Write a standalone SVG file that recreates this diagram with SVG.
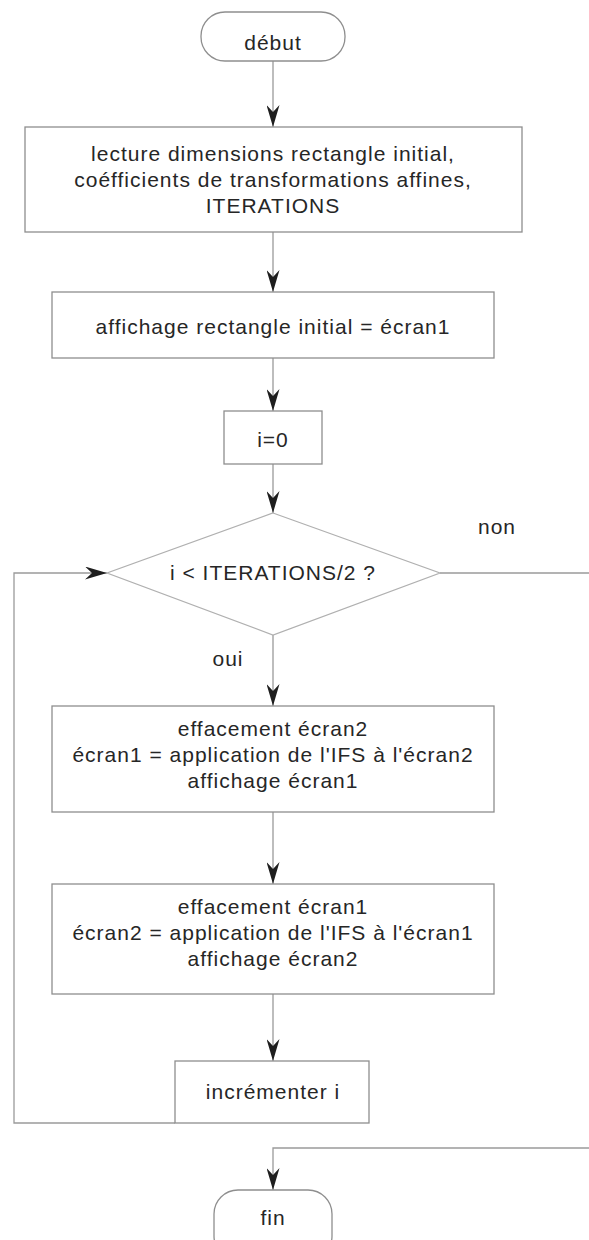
<svg xmlns="http://www.w3.org/2000/svg" width="589" height="1240" viewBox="0 0 589 1240">
  <defs>
    <marker id="arrow" viewBox="0 0 22 13" refX="22" refY="6.5" markerWidth="22" markerHeight="13" markerUnits="userSpaceOnUse" orient="auto">
      <path d="M0,0 L22,6.5 L0,13 L7,6.5 Z" fill="#1e1e1e"/>
    </marker>
  </defs>
  <style>
    .box { fill: #ffffff; stroke: #8e8e8e; stroke-width: 1.3; }
    .dia { fill: #ffffff; stroke: #b0b0b0; stroke-width: 1.2; }
    .lbl { font-family: "Liberation Sans", Arial, sans-serif; font-size: 21px; letter-spacing: 1px; fill: #262626; text-anchor: middle; }
    .wire { fill: none; stroke: #9a9a9a; stroke-width: 1.3; }
    .flow { fill: none; stroke: #9a9a9a; stroke-width: 1.3; marker-end: url(#arrow); }
  </style>
  <rect width="589" height="1240" fill="#ffffff"/>

  <!-- connectors -->
  <g id="connectors">
    <line class="flow" x1="273" y1="61" x2="273" y2="127"/>
    <line class="flow" x1="273" y1="232" x2="273" y2="292"/>
    <line class="flow" x1="273" y1="358" x2="273" y2="411"/>
    <line class="flow" x1="273" y1="464" x2="273" y2="513"/>
    <line class="flow" x1="273" y1="635" x2="273" y2="706"/>
    <line class="flow" x1="273" y1="812" x2="273" y2="884"/>
    <line class="flow" x1="273" y1="994" x2="273" y2="1061"/>
    <!-- loop back to the test -->
    <polyline class="flow" points="175,1123 14,1123 14,573 107,573"/>
    <!-- exit branch leaves to the right and comes back to the end -->
    <line class="wire" x1="440" y1="573" x2="589" y2="573"/>
    <polyline class="flow" points="589,1148 273,1148 273,1190"/>
    <text class="lbl" x="497" y="534">non</text>
    <text class="lbl" x="228" y="666">oui</text>
  </g>

  <g id="debut">
    <rect class="box" x="201" y="12" width="144" height="49" rx="24" ry="24"/>
    <text class="lbl" x="273" y="50">début</text>
  </g>

  <g id="lecture">
    <rect class="box" x="25" y="127" width="497" height="105"/>
    <text class="lbl" x="273" y="161">lecture dimensions rectangle initial,</text>
    <text class="lbl" x="273" y="187">coéfficients de transformations affines,</text>
    <text class="lbl" x="273" y="213">ITERATIONS</text>
  </g>

  <g id="affichage">
    <rect class="box" x="52" y="292" width="442" height="66"/>
    <text class="lbl" x="273" y="334">affichage rectangle initial = écran1</text>
  </g>

  <g id="init">
    <rect class="box" x="224" y="411" width="98" height="53"/>
    <text class="lbl" x="273" y="447">i=0</text>
  </g>

  <g id="test">
    <polygon class="dia" points="273,513 440,573 273,635 107,573"/>
    <text class="lbl" x="273" y="580">i &lt; ITERATIONS/2 ?</text>
  </g>

  <g id="etape1">
    <rect class="box" x="52" y="706" width="442" height="106"/>
    <text class="lbl" x="273" y="736">effacement écran2</text>
    <text class="lbl" x="273" y="762">écran1 = application de l'IFS à l'écran2</text>
    <text class="lbl" x="273" y="788">affichage écran1</text>
  </g>

  <g id="etape2">
    <rect class="box" x="52" y="884" width="442" height="110"/>
    <text class="lbl" x="273" y="914">effacement écran1</text>
    <text class="lbl" x="273" y="940">écran2 = application de l'IFS à l'écran1</text>
    <text class="lbl" x="273" y="966">affichage écran2</text>
  </g>

  <g id="increment">
    <rect class="box" x="175" y="1061" width="194" height="62"/>
    <text class="lbl" x="273" y="1099">incrémenter i</text>
  </g>

  <g id="fin">
    <rect class="box" x="214" y="1190" width="118" height="70" rx="24" ry="24"/>
    <text class="lbl" x="273" y="1225">fin</text>
  </g>
</svg>
